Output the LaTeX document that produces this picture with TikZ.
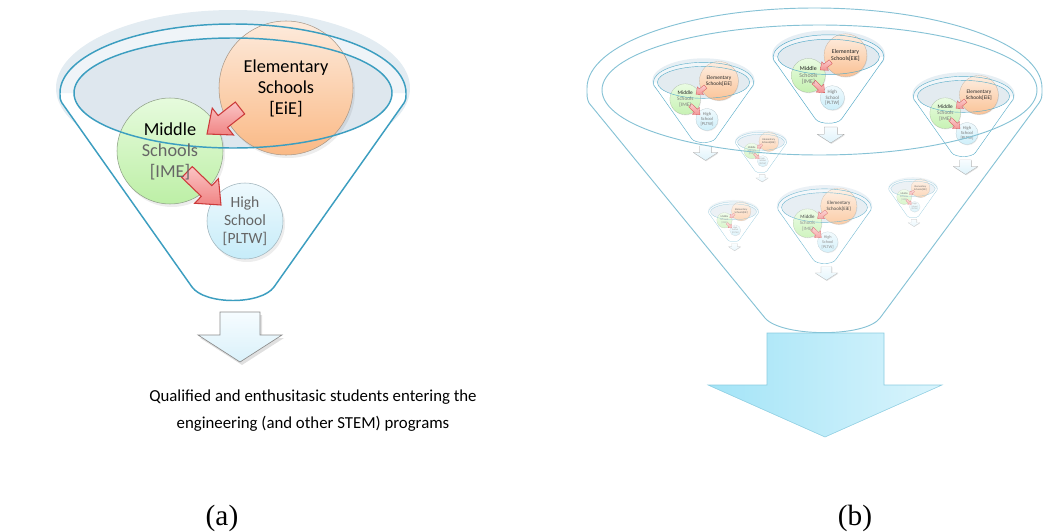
\documentclass[tikz,border=0pt]{standalone}
\usepackage{fontspec}
\setmainfont{Carlito}
\newfontfamily\timesf{Liberation Serif}
\usetikzlibrary{calc}
\definecolor{cShade}{HTML}{E3ECF2}
\definecolor{cTop}{HTML}{EFF4F8}
\definecolor{cInner}{HTML}{DEE7EE}
\definecolor{cLine}{HTML}{3C9EC0}
\definecolor{cOrT}{HTML}{FDEBDD}
\definecolor{cOrB}{HTML}{FAB985}
\definecolor{cOrD}{HTML}{A89888}
\definecolor{cGrT}{HTML}{E6FBDD}
\definecolor{cGrB}{HTML}{BDEFA6}
\definecolor{cGrD}{HTML}{8FA088}
\definecolor{cBlT}{HTML}{EEF9FD}
\definecolor{cBlB}{HTML}{C6ECF9}
\definecolor{cBlD}{HTML}{A0B4BC}
\definecolor{cRdT}{HTML}{FBC4C4}
\definecolor{cRdB}{HTML}{F08484}
\definecolor{cRdD}{HTML}{CC3B3B}
\definecolor{cArT}{HTML}{F6FCFF}
\definecolor{cArB}{HTML}{DAF1FA}
\definecolor{cArD}{HTML}{8C8C8C}
\definecolor{cGry}{HTML}{666666}
\definecolor{bigLine}{HTML}{86C2D5}
\definecolor{bigArL}{HTML}{A3E4F7}
\definecolor{bigArR}{HTML}{DAF4FC}
\definecolor{bigArD}{HTML}{8ACCE0}

\def\funnelpath{(-41,207) -- (-171,23) .. controls (-173,19) .. (-173,13) arc[start angle=180,end angle=360,x radius=173,y radius=69] .. controls (173,19) .. (171,23) -- (41,207) .. controls (28,225) and (-28,225) .. (-41,207) -- cycle}

\newcommand\redblock[5]{%
  \coordinate (#1b) at ($(#1)!#4!(#2)$);
  \path[top color=fRdT, bottom color=fRdB, draw=fRdD, line width=#5, line join=miter]
    ($(#1)!#3!90:(#2)$) -- ($(#1b)!.375!90:(#2)$) -- ($(#1b)!.85!90:(#2)$) -- (#2)
    -- ($(#1b)!.85!-90:(#2)$) -- ($(#1b)!.375!-90:(#2)$) -- ($(#1)!#3!-90:(#2)$) -- cycle;}

\newcommand\funnel[6]{%
\begin{scope}[shift={(#1,#2)},scale=#3,transform shape]
  \colorlet{fShade}{cShade!#4!white}
  \colorlet{fTop}{cTop!#4!white}
  \colorlet{fInner}{cInner!#4!white}
  \colorlet{fLine}{cLine!#4!white}
  \colorlet{fOrT}{cOrT!#4!white}
  \colorlet{fOrB}{cOrB!#4!white}
  \colorlet{fOrD}{cOrD!#4!white}
  \colorlet{fGrT}{cGrT!#4!white}
  \colorlet{fGrB}{cGrB!#4!white}
  \colorlet{fGrD}{cGrD!#4!white}
  \colorlet{fBlT}{cBlT!#4!white}
  \colorlet{fBlB}{cBlB!#4!white}
  \colorlet{fBlD}{cBlD!#4!white}
  \colorlet{fRdT}{cRdT!#4!white}
  \colorlet{fRdB}{cRdB!#4!white}
  \colorlet{fRdD}{cRdD!#4!white}
  \colorlet{fArT}{cArT!#4!white}
  \colorlet{fArB}{cArB!#4!white}
  \colorlet{fArD}{cArD!#4!white}
  \colorlet{fTxt}{black!#4!white}
  \colorlet{fGry}{cGry!#4!white}
  \fill[fShade] (0,8) ellipse[x radius=177,y radius=78];
  \fill[white] \funnelpath;
  \fill[fTop] (-173,13) arc[start angle=180,end angle=360,x radius=173,y radius=69] -- cycle;
  \fill[fInner] (0,13) ellipse[x radius=159,y radius=55];
  \fill[black,opacity=.07] (55,11) circle[radius=67];
  \draw[fOrD,line width={.4pt*#3},top color=fOrT,bottom color=fOrB] (53,8) circle[radius=67];
  \fill[black,opacity=.07] (-61,74) circle[radius=53];
  \draw[fGrD,line width={.4pt*#3},top color=fGrT,bottom color=fGrB] (-63,71) circle[radius=53];
  \fill[black,opacity=.07] (14,144) circle[radius=38];
  \draw[fBlD,line width={.4pt*#3},top color=fBlT,bottom color=fBlB] (12,141) circle[radius=38];
  \coordinate (#5ea) at (7,28);
  \coordinate (#5eb) at (-26,54);
  \redblock{#5ea}{#5eb}{.18}{.52}{.8pt*#3}
  \coordinate (#5ma) at (-46,92);
  \coordinate (#5mb) at (-12,125);
  \redblock{#5ma}{#5mb}{.16}{.575}{.8pt*#3}
  \draw[fLine,line width={1.1pt*#3}] \funnelpath;
  \draw[fLine,line width={1.1pt*#3}] (0,13) ellipse[x radius=159,y radius=55];
  \node[font=\fontsize{13.7}{15.75}\selectfont,text=fTxt,align=center,inner sep=0] (#5e) at (53,8) {#6};
  \node[font=\fontsize{13.7}{15.75}\selectfont,text=fTxt,align=center,inner sep=0] (#5m) at (-63,71) {Middle\\\textcolor{fGry}{Schools}\\\textcolor{fGry}{[IME]}};
  \node[font=\fontsize{11.7}{13.5}\selectfont,text=fGry,align=center,inner sep=0] (#5h) at (12,141) {High\\School\\{[PLTW]}};
  \fill[black,opacity=.12] (-11,235) -- (29,235) -- (29,258) -- (51,258) -- (9,285) -- (-33,258) -- (-11,258) -- cycle;
  \path[top color=fArT,bottom color=fArB,draw=fArD,line width={.5pt*#3}] (-13,232) -- (27,232) -- (27,255) -- (49,255) -- (7,282) -- (-35,255) -- (-13,255) -- cycle;
\end{scope}}

\begin{document}
\begin{tikzpicture}[x=0.75pt,y=-0.75pt]
\useasboundingbox (0,0) rectangle (1043,532);
% ---------- (a)
\funnel{233}{80}{1}{100}{a}{Elementary\\Schools\\{[EiE]}}
\node[font=\fontsize{12.6}{20.25}\selectfont,align=center] (out) at (313,411) {Qualified and enthusitasic students entering the\\engineering (and other STEM) programs};
\node[font=\timesf\fontsize{22}{26}\selectfont] (la) at (222,518) {(a)};
% ---------- (b)
\funnel{828.5}{52.7}{.32}{88}{p}{Elementary\\Schools[EiE]}
\funnel{703.5}{78.6}{.29}{85}{q}{Elementary\\Schools[EiE]}
\funnel{963.5}{92.6}{.29}{85}{r}{Elementary\\Schools[EiE]}
\funnel{761}{140.4}{.147}{62}{s}{Elementary\\Schools[EiE]}
\funnel{824.5}{204}{.27}{72}{t}{Elementary\\Schools[EiE]}
\funnel{733.5}{210}{.144}{58}{u}{Elementary\\Schools[EiE]}
\funnel{913}{187}{.14}{58}{v}{Elementary\\Schools[EiE]}
\draw[bigLine,line width=.7pt] (765,318) -- (589,103) .. controls (587,98) .. (587,88) arc[start angle=180,end angle=360,x radius=227.5,y radius=80] .. controls (1042,98) .. (1039,103) -- (880,318) .. controls (865,338) and (781,337) .. (765,318) -- cycle;
\draw[bigLine,line width=.7pt] (819.5,90) ellipse[x radius=217.5,y radius=65];
\path[left color=bigArL,right color=bigArR,draw=bigArD,line width=.4pt] (767,333) -- (884,333) -- (884,385) -- (942,385) -- (825,437) -- (708,385) -- (767,385) -- cycle;
\node[font=\timesf\fontsize{22}{26}\selectfont] (lb) at (855,518) {(b)};
\end{tikzpicture}
\end{document}
